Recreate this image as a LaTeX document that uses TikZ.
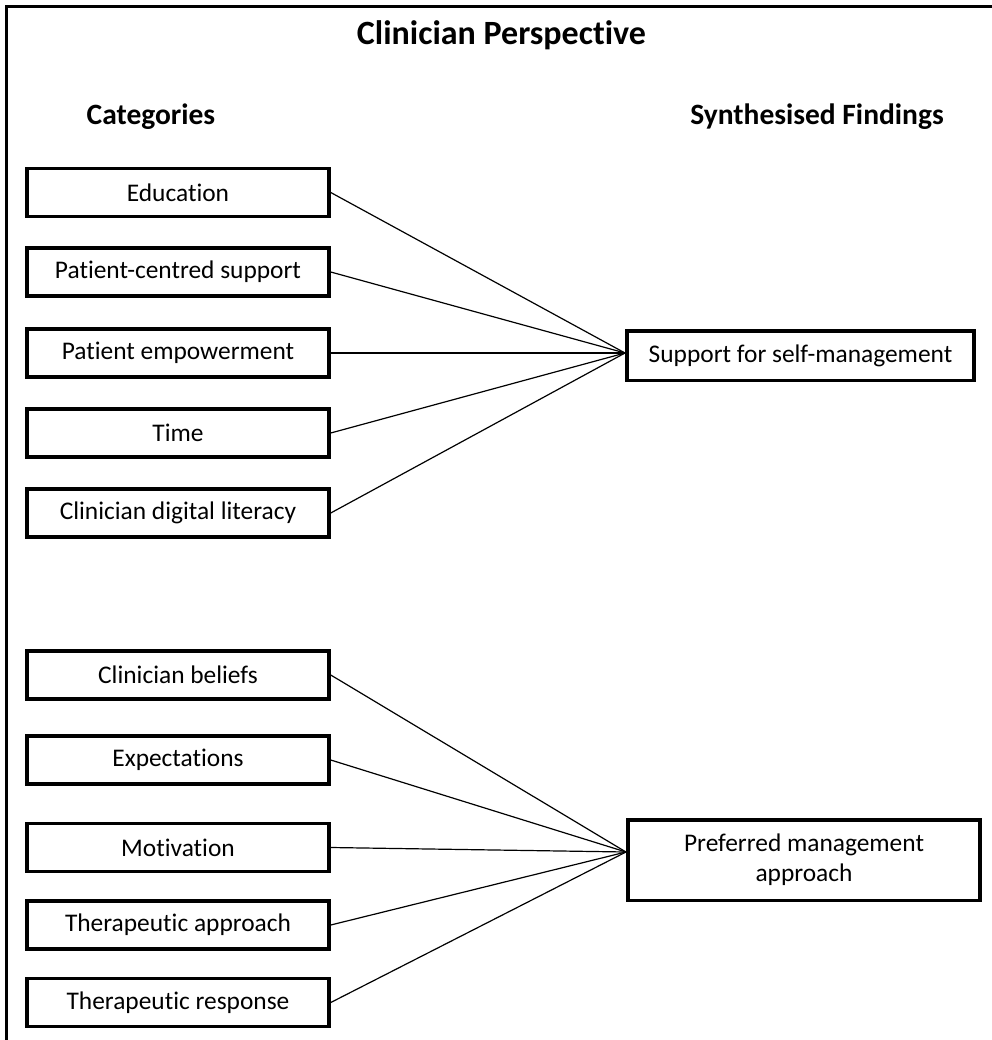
\documentclass[tikz,border=0pt]{standalone}
\usepackage{fontspec}
\setmainfont{Carlito}[Ligatures=NoCommon]
\begin{document}
\begin{tikzpicture}[x=1pt,y=-1pt,
  catbox/.style={draw,line width=3.5pt,inner sep=0pt,minimum width=302pt,minimum height=48pt,
    font=\fontsize{25.4}{30.3}\selectfont},
  findbox/.style={draw,line width=3.5pt,inner sep=0pt,align=center,
    font=\fontsize{25.4}{30.3}\selectfont},
  heading/.style={anchor=base,font=\bfseries\fontsize{29.5}{34}\selectfont},
  link/.style={line width=1.2pt}]
\useasboundingbox (0,0) rectangle (991,1040);
\draw[line width=3pt] (6.5,1045) -- (6.5,6.5) -- (996,6.5);
\node[heading,font=\bfseries\fontsize{34}{40}\selectfont] (title) at (501.5,45) {Clinician Perspective};
\node[heading] (cats) at (151,125) {Categories};
\node[heading] (finds) at (817,125) {Synthesised Findings};
% first group
\node[catbox] (edu) at (178,192.5) {Education};
\node[catbox] (pcs) at (178,272) {Patient-centred support};
\node[catbox] (emp) at (178,353) {Patient empowerment};
\node[catbox] (time) at (178,433) {Time};
\node[catbox] (lit) at (178,513) {Clinician digital literacy};
\node[findbox,minimum width=347pt,minimum height=49.5pt] (self) at (800.5,355.5) {Support for self-management};
\coordinate (hubA) at (625,353);
\foreach \n in {edu,pcs,emp,time,lit}
  \draw[link] (\n.east) -- (hubA);
% second group
\node[catbox] (bel) at (178,675) {Clinician beliefs};
\node[catbox] (exp) at (178,760) {Expectations};
\node[catbox] (mot) at (178,847.5) {Motivation};
\node[catbox] (tap) at (178,925) {Therapeutic approach};
\node[catbox] (tre) at (178,1002.5) {Therapeutic response};
\node[findbox,minimum width=352pt,minimum height=80.5pt] (pref) at (804,860) {Preferred management\\approach};
\coordinate (hubB) at (626,852);
\foreach \n in {bel,exp,mot,tap,tre}
  \draw[link] (\n.east) -- (hubB);
\end{tikzpicture}
\end{document}
